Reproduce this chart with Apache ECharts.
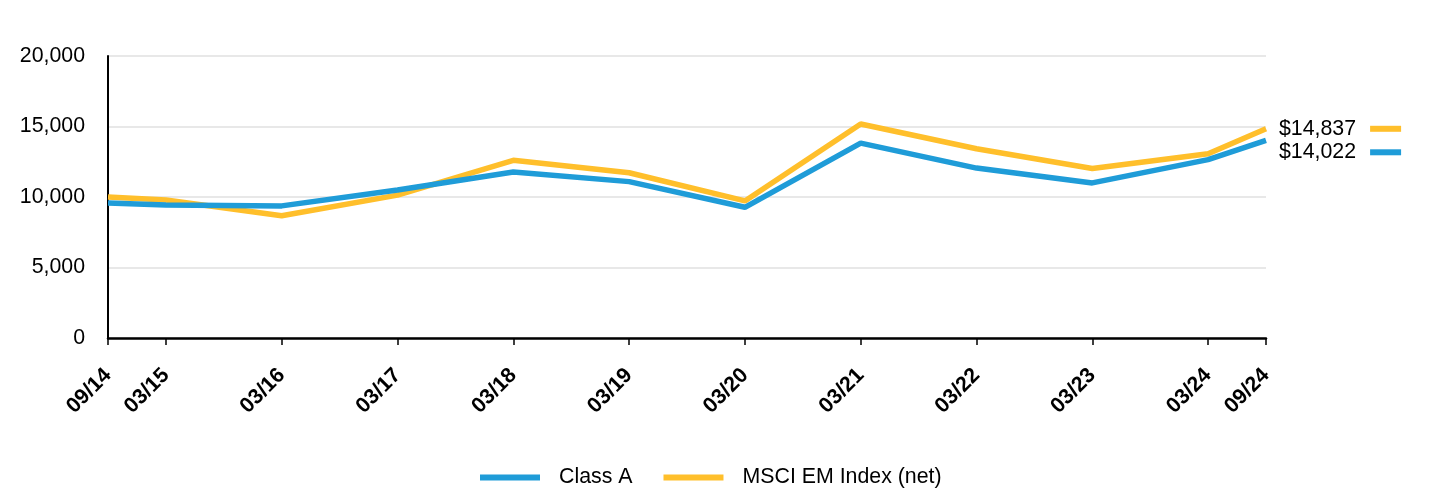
<!DOCTYPE html>
<html>
<head>
<meta charset="utf-8">
<script src="https://cdn.jsdelivr.net/npm/echarts@6/dist/echarts.min.js"></script>
<style>
  html, body { margin: 0; padding: 0; background: #ffffff; }
  #chart { width: 1440px; height: 492px; }
</style>
</head>
<body>
<div id="chart"></div>
<script>
// Months elapsed since 09/2014 for each observation
const monthsSinceStart = [0, 6, 18, 30, 42, 54, 66, 78, 90, 102, 114, 120];
const tickLabels = ['09/14', '03/15', '03/16', '03/17', '03/18', '03/19', '03/20', '03/21', '03/22', '03/23', '03/24', '09/24'];
const classA = [9580, 9430, 9370, 10500, 11770, 11090, 9270, 13820, 12050, 11000, 12650, 14022];
const msciEM = [10000, 9790, 8670, 10130, 12600, 11720, 9720, 15180, 13420, 12020, 13070, 14837];
const seriesNames = ['Class A', 'MSCI EM Index (net)'];
const yTicks = [0, 5000, 10000, 15000, 20000];

const BLUE = '#1f9cd8';
const YELLOW = '#ffbf2b';
const FONT = 'Liberation Sans, Arial, sans-serif';
const FS = 21.33;

const labelMap = {};
monthsSinceStart.forEach((m, i) => { labelMap[m] = tickLabels[i]; });

function fmtNum(v) { return Number(v).toLocaleString('en-US'); }

function pairs(vals) { return monthsSinceStart.map((m, i) => [m, vals[i]]); }

function endLabel(color, offsetY) {
  return {
    show: true,
    distance: 13,
    offset: [0, offsetY],
    formatter: (p) => '{t|$' + fmtNum(p.value[1]) + '}{b|}',
    rich: {
      t: { fontFamily: FONT, fontSize: FS, color: '#000', padding: [0, 14, 0, 0] },
      b: { backgroundColor: color, width: 31, height: 6 }
    }
  };
}

const chart = echarts.init(document.getElementById('chart'), null, { renderer: 'canvas' });
chart.setOption({
  animation: false,
  backgroundColor: '#ffffff',
  grid: { left: 108, right: 174, top: 56, bottom: 154, containLabel: false },
  legend: {
    left: 475,
    top: 462,
    itemWidth: 60,
    itemHeight: 6,
    itemGap: 31,
    icon: 'rect',
    data: seriesNames,
    textStyle: { fontFamily: FONT, fontSize: FS, color: '#000', padding: [0, 0, 0, 14] }
  },
  xAxis: {
    type: 'value',
    min: monthsSinceStart[0],
    max: monthsSinceStart[monthsSinceStart.length - 1],
    splitLine: { show: false },
    axisLine: { show: true, onZero: false, lineStyle: { color: '#000', width: 2.5 } },
    axisTick: { show: true, length: 7, lineStyle: { color: '#000', width: 1.5 }, customValues: monthsSinceStart },
    axisLabel: {
      customValues: monthsSinceStart,
      rotate: 45,
      margin: 34,
      fontFamily: FONT,
      fontSize: FS,
      fontWeight: 'bold',
      color: '#000',
      formatter: (v) => labelMap[v] || ''
    }
  },
  yAxis: {
    type: 'value',
    min: yTicks[0],
    max: yTicks[yTicks.length - 1],
    interval: 5000,
    axisLine: { show: true, lineStyle: { color: '#000', width: 2 } },
    axisTick: { show: false },
    splitLine: { show: true, lineStyle: { color: '#e0e0e0', width: 1.5 } },
    axisLabel: {
      margin: 23,
      fontFamily: FONT,
      fontSize: FS,
      color: '#000',
      formatter: (v) => fmtNum(v)
    }
  },
  series: [
    {
      name: seriesNames[0],
      type: 'line',
      data: pairs(classA),
      showSymbol: false,
      symbol: 'none',
      z: 3,
      lineStyle: { color: BLUE, width: 5.5 },
      itemStyle: { color: BLUE },
      endLabel: endLabel(BLUE, 12)
    },
    {
      name: seriesNames[1],
      type: 'line',
      data: pairs(msciEM),
      showSymbol: false,
      symbol: 'none',
      z: 2,
      lineStyle: { color: YELLOW, width: 5.5 },
      itemStyle: { color: YELLOW },
      endLabel: endLabel(YELLOW, 0)
    }
  ]
});
</script>
</body>
</html>
